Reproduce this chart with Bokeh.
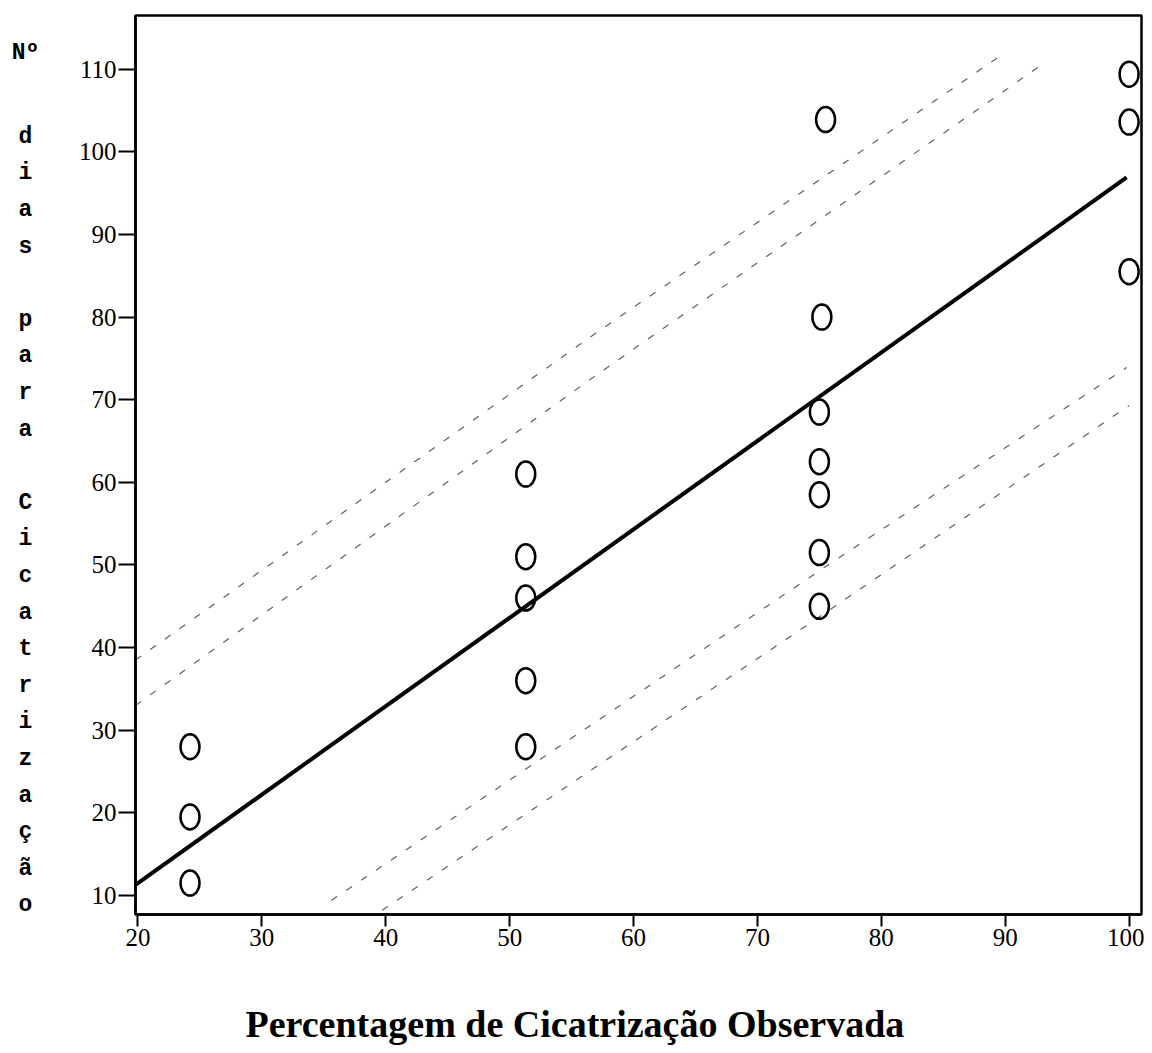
from bokeh.plotting import figure
from bokeh.models import Range1d, FixedTicker, LinearAxis, Title
from bokeh.layouts import row
from bokeh.core.properties import value
from bokeh.embed import file_html
from bokeh.resources import INLINE

# ---------------- data ----------------
obs_x = [24.2, 24.2, 24.2,
         51.3, 51.3, 51.3, 51.3, 51.3,
         75.5, 75.2, 75.0, 75.0, 75.0, 75.0, 75.0,
         100.0, 100.0, 100.0]
obs_y = [28.0, 19.5, 11.5,
         61.0, 51.0, 46.0, 36.0, 28.0,
         103.9, 80.0, 68.5, 62.5, 58.5, 51.5, 45.0,
         109.4, 103.6, 85.5]

fit_x = [19.8, 99.8]
fit_y = [11.3, 96.9]

upper_outer_x = [19.8, 56.8, 89.4]
upper_outer_y = [38.5, 77.9, 111.4]
upper_inner_x = [19.8, 57.3, 93.2]
upper_inner_y = [33.0, 73.3, 110.8]
lower_inner_x = [35.6, 75.7, 99.8]
lower_inner_y = [9.4, 50.0, 73.9]
lower_outer_x = [39.7, 74.3, 100.0]
lower_outer_y = [8.2, 43.0, 69.3]

x_ticks = [20, 30, 40, 50, 60, 70, 80, 90, 100]
y_ticks = [10, 20, 30, 40, 50, 60, 70, 80, 90, 100, 110]

x_title = "Percentagem de Cicatrização Observada"
y_title_rows = ["Nº", "", "d", "i", "a", "s", "", "p", "a", "r", "a", "",
                "C", "i", "c", "a", "t", "r", "i", "z", "a", "ç", "ã", "o"]

# ---------------- layout ----------------
X_MIN, X_MAX = 19.8, 101.0
Y_MIN, Y_MAX = 7.7, 116.5
H = 1049
LW = 60                      # width of the column holding the stacked title
MW = 1144 - LW               # main figure width
FRAME_TOP, FRAME_BOTTOM = 15, 914
BL, BR, BT = 135 - LW, 3, FRAME_TOP
BB = H - FRAME_BOTTOM

# stacked vertical y title (its own narrow panel, page-pixel coordinates)
side = figure(width=LW, height=H, x_range=Range1d(0, LW),
              y_range=Range1d(FRAME_BOTTOM, FRAME_TOP),
              x_axis_type=None, y_axis_type=None,
              min_border_left=0, min_border_right=0,
              min_border_top=BT, min_border_bottom=BB,
              output_backend="svg", toolbar_location=None)
side.outline_line_color = None
side.xgrid.grid_line_color = None
side.ygrid.grid_line_color = None
rows_txt, rows_x, rows_y = [], [], []
for i, ch in enumerate(y_title_rows):
    if ch:
        rows_txt.append(ch)
        rows_x.append(25)
        rows_y.append(52 if i == 0 else 63 + i * 36.6)
side.text(x=rows_x, y=rows_y, text=rows_txt, text_font=value("Liberation Mono"),
          text_font_size="23px", text_font_style="bold", text_color="black",
          text_align="center", text_baseline="middle")

p = figure(width=MW, height=H, output_backend="svg", toolbar_location=None,
           x_range=Range1d(X_MIN, X_MAX), y_range=Range1d(Y_MIN, Y_MAX),
           min_border_left=BL, min_border_right=BR, min_border_top=BT,
           min_border_bottom=BB)

p.background_fill_color = "white"
p.border_fill_color = "white"
p.outline_line_color = "black"
p.outline_line_width = 2.5
p.xgrid.grid_line_color = None
p.ygrid.grid_line_color = None

for ax, ticks in ((p.xaxis[0], x_ticks), (p.yaxis[0], y_ticks)):
    ax.ticker = FixedTicker(ticks=ticks)
    ax.axis_line_color = "black"
    ax.axis_line_width = 2.5
    ax.major_tick_line_color = "black"
    ax.major_tick_line_width = 2
    ax.major_tick_in = 0
    ax.minor_tick_line_color = None
    ax.major_label_text_font = "Liberation Serif"
    ax.major_label_text_font_size = "25px"
    ax.major_label_text_color = "black"
    ax.major_label_standoff = 2

p.xaxis[0].major_tick_out = 12
p.yaxis[0].major_tick_out = 17

# invisible spacer between the tick labels and the x title
spacer = LinearAxis(ticker=FixedTicker(ticks=[60]), axis_line_color=None,
                    major_tick_line_color=None, minor_tick_line_color=None,
                    major_tick_in=0, major_tick_out=50,
                    minor_tick_in=0, minor_tick_out=0,
                    major_label_standoff=0,
                    major_label_overrides={60: ""},
                    major_label_text_font_size="1px")
p.add_layout(spacer, "below")

p.add_layout(Title(text=x_title, align="left", offset=110, standoff=4,
                   text_font="Liberation Serif", text_font_size="38px",
                   text_font_style="bold", text_color="black"), "below")

# confidence / prediction bands (dashed)
for bx, by in ((upper_outer_x, upper_outer_y), (upper_inner_x, upper_inner_y),
               (lower_inner_x, lower_inner_y), (lower_outer_x, lower_outer_y)):
    p.line(bx, by, line_color="#606060", line_width=1.2, line_dash="7 11")

# regression line
p.line(fit_x, fit_y, line_color="black", line_width=4)

# observations: open circles (slightly tall ellipses)
p.ellipse(x=obs_x, y=obs_y, width=19, height=25, width_units="screen",
          height_units="screen", fill_color=None, line_color="black",
          line_width=2.5)

layout = row(side, p)
open("out.html", "w").write(file_html(layout, INLINE))
